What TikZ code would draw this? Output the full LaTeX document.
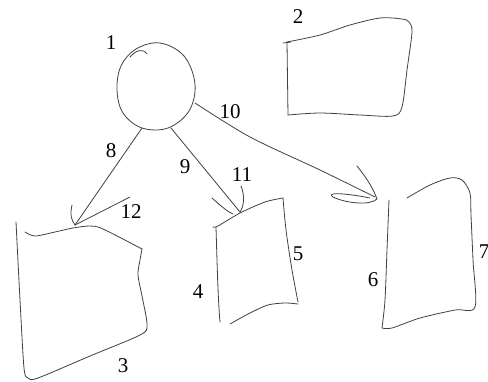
\documentclass[tikz,border=0pt]{standalone}
\usepackage{fontspec}
\setmainfont{Liberation Serif}
\begin{document}
\begin{tikzpicture}[x=1pt,y=-1pt,
  ink/.style={draw=black!75,line width=0.8pt,line cap=round,line join=round},
  lbl/.style={font=\fontsize{21}{24}\selectfont,inner sep=0pt,text=black}]
\useasboundingbox (0,0) rectangle (488,381);
% labels
\node[lbl] (l1) at (111,43) {1};
\node[lbl] (l2) at (298,17) {2};
\node[lbl] (l3) at (123,366) {3};
\node[lbl] (l4) at (198,292) {4};
\node[lbl] (l5) at (298,254) {5};
\node[lbl] (l6) at (373,280) {6};
\node[lbl] (l7) at (484,252) {7};
\node[lbl] (l8) at (111,151) {8};
\node[lbl] (l9) at (185,167) {9};
\node[lbl] (l10) at (230,112) {10};
\node[lbl] (l11) at (242,175) {11};
\node[lbl] (l12) at (131,212) {12};
% named anchor points
\coordinate (c8) at (142,128);
\coordinate (c9) at (171,128);
\coordinate (c10) at (195,103);
\coordinate (t3) at (75,225);
\coordinate (t4) at (240,212);
\coordinate (t6) at (375,197);
% circle 1
\draw[ink] plot[smooth cycle,tension=0.6] coordinates {(160,43) (184,56) (195,84) (189,111) (168,128) (142,128) (123,113) (117,90) (121,66) (136,49)};
\draw[ink] (130,57) .. controls (136,50) and (143,48) .. (147,54);
% box 2
\draw[ink] (283,43) -- (291,42);
\draw[ink] (287,42) -- (288,115);
\draw[ink] plot[smooth,tension=0.5] coordinates {(288,115) (320,113) (360,115) (393,116) (402,107) (407,70) (412,32) (409,22) (402,19) (380,18) (350,25) (320,35) (287,42)};
% box 3
\draw[ink] plot[smooth,tension=0.5] coordinates {(16,222) (20,300) (24,368) (28,378) (38,378) (90,356) (140,335) (147,325) (142,296) (138,275) (140,260) (142,249)};
\draw[ink] plot[smooth,tension=0.5] coordinates {(25,232) (35,236) (55,232) (73,228) (90,226) (103,229) (142,249)};
% box 4/5
\draw[ink] plot[smooth,tension=0.5] coordinates {(213,227) (218,226) (240,213) (265,202) (283,198)};
\draw[ink] (216,227) .. controls (217,260) and (218,300) .. (220,322);
\draw[ink] plot[smooth,tension=0.5] coordinates {(283,198) (286,230) (292,270) (298,302)};
\draw[ink] plot[smooth,tension=0.5] coordinates {(230,324) (250,313) (268,305) (285,303) (298,304)};
% box 6/7
\draw[ink] plot[smooth,tension=0.5] coordinates {(389,200) (387,250) (385,300) (382,328)};
\draw[ink] plot[smooth,tension=0.5] coordinates {(382,328) (392,328) (420,318) (455,310) (475,307) (473,260) (471,215) (470,193) (462,180) (450,178) (430,185) (407,198)};
% connector 8
\draw[ink] (c8) -- (t3);
\draw[ink] (72,205) .. controls (70,214) and (71,220) .. (t3);
\draw[ink] (130,197) -- (t3);
% connector 9
\draw[ink] (c9) -- (t4);
\draw[ink] (212,198) .. controls (222,207) and (228,212) .. (233,214);
\draw[ink] (241,186) .. controls (245,196) and (244,206) .. (t4);
% connector 10
\draw[ink] plot[smooth,tension=0.5] coordinates {(c10) (250,137) (320,170) (t6)};
\draw[ink] (357,166) .. controls (366,177) and (373,188) .. (377,199);
\draw[ink] (377,199) .. controls (370,206) and (345,203) .. (333,197) .. controls (325,192) and (345,193) .. (370,198);
\end{tikzpicture}
\end{document}
